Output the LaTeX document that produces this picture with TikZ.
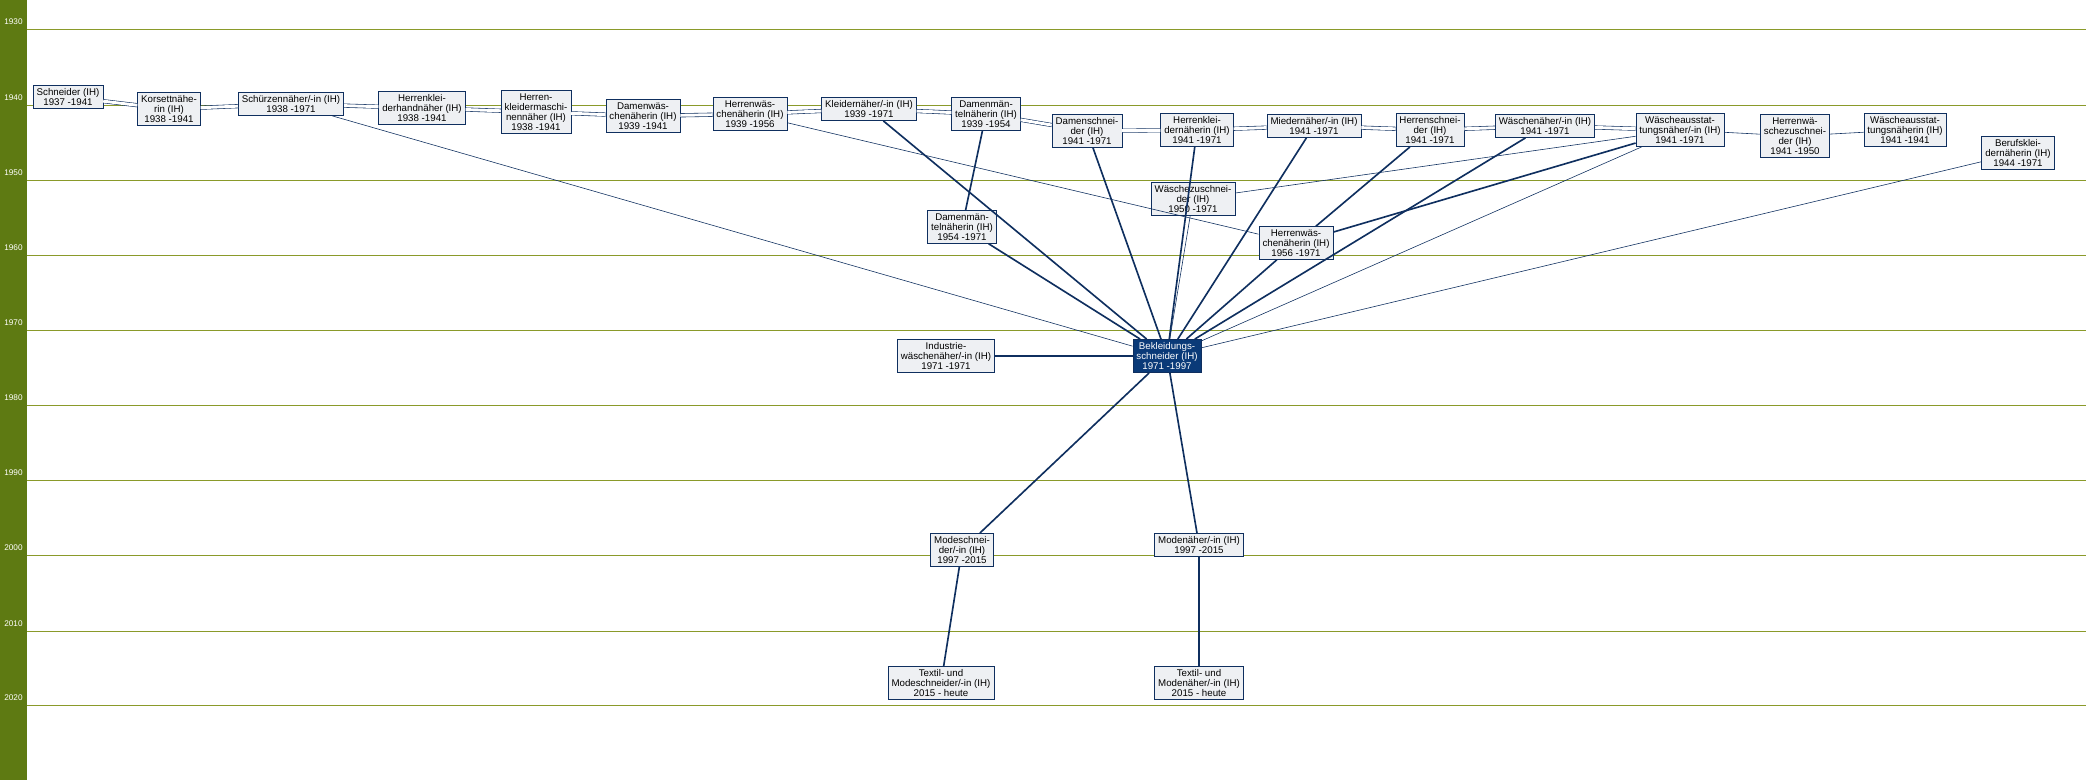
\documentclass[tikz,border=0pt]{standalone}
\usepackage{fontspec}
\setmainfont{Liberation Sans}
\usetikzlibrary{arrows}
\definecolor{barGreen}{HTML}{5E7A12}
\definecolor{yearLine}{HTML}{8A9A2A}
\definecolor{edgeBlue}{HTML}{0F2F5F}
\definecolor{boxFill}{HTML}{EEF0F3}
\definecolor{mainBlue}{HTML}{0A3A78}
\tikzstyle{job} = [rectangle, draw=edgeBlue, fill=boxFill, text centered, align=center, font=\fontsize{8.3}{8.6}\selectfont, inner xsep=3pt, inner ysep=2.5pt, line width=0.6pt]
\tikzstyle{mainjob} = [job, fill=mainBlue, text=white]
\tikzstyle{link} = [edgeBlue, line width=0.5pt]
\tikzstyle{strong} = [edgeBlue, line width=1.4pt]
\tikzstyle{twin} = [edgeBlue, double=white, double distance=2.5pt, line width=0.5pt]
\begin{document}
\begin{tikzpicture}[x=0.3mm, y=-0.3mm]
                \useasboundingbox (0,0) rectangle (2086,780);
                \fill[barGreen] (0,0) rectangle (27,780);
                \foreach \yr/\yy in {1930/29, 1940/105, 1950/180, 1960/255, 1970/330, 1980/405, 1990/480, 2000/555, 2010/631, 2020/705} {
                    \draw[yearLine, line width=0.7pt] (27,\yy) -- (2086,\yy);
                    \node[text=white, font=\fontsize{7}{7}\selectfont, anchor=south] at (13.5,\yy) {\yr};
                }

                \node (schneider) [job] at (68,97) {Schneider (IH)\\1937 -1941};
                \node (korsett) [job] at (169,109) {Korsettnähe-\\rin (IH)\\1938 -1941};
                \node (schuerzen) [job] at (291,104) {Schürzennäher/-in (IH)\\1938 -1971};
                \node (hkhand) [job] at (422,108) {Herrenklei-\\derhandnäher (IH)\\1938 -1941};
                \node (hkmasch) [job] at (536,112) {Herren-\\kleidermaschi-\\nennäher (IH)\\1938 -1941};
                \node (dwaesche) [job] at (643,116) {Damenwäs-\\chenäherin (IH)\\1939 -1941};
                \node (hwaescheA) [job] at (750,114) {Herrenwäs-\\chenäherin (IH)\\1939 -1956};
                \node (kleider) [job] at (869,109) {Kleidernäher/-in (IH)\\1939 -1971};
                \node (dmantelA) [job] at (986,114) {Damenmän-\\telnäherin (IH)\\1939 -1954};
                \node (dschneider) [job] at (1087,131) {Damenschnei-\\der (IH)\\1941 -1971};
                \node (hkleider) [job] at (1197,130) {Herrenklei-\\dernäherin (IH)\\1941 -1971};
                \node (mieder) [job] at (1314,126) {Miedernäher/-in (IH)\\1941 -1971};
                \node (hschneider) [job] at (1430,130) {Herrenschnei-\\der (IH)\\1941 -1971};
                \node (waesche) [job] at (1545,126) {Wäschenäher/-in (IH)\\1941 -1971};
                \node (ausstattA) [job] at (1680,130) {Wäscheausstat-\\tungsnäher/-in (IH)\\1941 -1971};
                \node (hwzuschn) [job] at (1795,136) {Herrenwä-\\schezuschnei-\\der (IH)\\1941 -1950};
                \node (ausstattB) [job] at (1905,130) {Wäscheausstat-\\tungsnäherin (IH)\\1941 -1941};
                \node (berufs) [job] at (2018,153) {Berufsklei-\\dernäherin (IH)\\1944 -1971};
                \node (wzuschn) [job] at (1193,199) {Wäschezuschnei-\\der (IH)\\1950 -1971};
                \node (dmantelB) [job] at (962,227) {Damenmän-\\telnäherin (IH)\\1954 -1971};
                \node (hwaescheB) [job] at (1296,243) {Herrenwäs-\\chenäherin (IH)\\1956 -1971};
                \node (bekl) [mainjob] at (1167,356) {Bekleidungs-\\schneider (IH)\\1971 -1997};
                \node (industrie) [job] at (946,356) {Industrie-\\wäschenäher/-in (IH)\\1971 -1971};
                \node (modeschn) [job] at (962,550) {Modeschnei-\\der/-in (IH)\\1997 -2015};
                \node (modenae) [job] at (1199,545) {Modenäher/-in (IH)\\1997 -2015};
                \node (textilA) [job] at (941,683) {Textil- und\\Modeschneider/-in (IH)\\2015 - heute};
                \node (textilB) [job] at (1199,683) {Textil- und\\Modenäher/-in (IH)\\2015 - heute};

                \draw [twin] (schneider) -- (korsett);
                \draw [twin] (korsett) -- (schuerzen);
                \draw [twin] (schuerzen) -- (hkhand);
                \draw [twin] (hkhand) -- (hkmasch);
                \draw [twin] (hkmasch) -- (dwaesche);
                \draw [twin] (dwaesche) -- (hwaescheA);
                \draw [twin] (hwaescheA) -- (kleider);
                \draw [twin] (kleider) -- (dmantelA);
                \draw [twin] (dmantelA) -- (dschneider);
                \draw [twin] (dschneider) -- (hkleider);
                \draw [twin] (hkleider) -- (mieder);
                \draw [twin] (mieder) -- (hschneider);
                \draw [twin] (hschneider) -- (waesche);
                \draw [twin] (waesche) -- (ausstattA);
                \draw [link] (ausstattA) -- (hwzuschn);
                \draw [link] (hwzuschn) -- (ausstattB);

                \draw [link] (schuerzen) -- (bekl);
                \draw [link] (hwaescheA) -- (hwaescheB);
                \draw [strong] (kleider) -- (bekl);
                \draw [strong] (dmantelA) -- (dmantelB);
                \draw [strong] (dmantelB) -- (bekl);
                \draw [strong] (dschneider) -- (bekl);
                \draw [strong] (hkleider) -- (bekl);
                \draw [link] (wzuschn) -- (bekl);
                \draw [strong] (mieder) -- (bekl);
                \draw [strong] (hschneider) -- (hwaescheB);
                \draw [strong] (waesche) -- (bekl);
                \draw [link] (ausstattA) -- (wzuschn);
                \draw [strong] (ausstattA) -- (hwaescheB);
                \draw [link] (ausstattA) -- (bekl);
                \draw [strong] (hwaescheB) -- (bekl);
                \draw [link] (berufs) -- (bekl);
                \draw [strong] (industrie) -- (bekl);
                \draw [strong] (bekl) -- (modeschn);
                \draw [strong] (bekl) -- (modenae);
                \draw [strong] (modeschn) -- (textilA);
                \draw [strong] (modenae) -- (textilB);
            \end{tikzpicture}
\end{document}
